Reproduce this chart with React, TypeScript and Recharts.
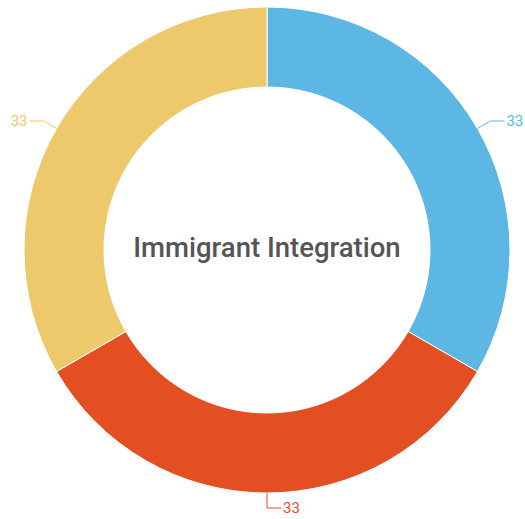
import React from 'react';
import { PieChart, Pie, Cell } from 'recharts';

const segments = ['Segment 1', 'Segment 2', 'Segment 3'];
const values = [33, 33, 33];
const colors = ['#5DB7E5', '#E34F22', '#EDC96B'];
const centerTitle = 'Immigrant Integration';

const RADIAN = Math.PI / 180;

function renderLabel(props: any) {
  const { cx, cy, midAngle, outerRadius, value, index } = props;
  const color = colors[index % colors.length];
  const cos = Math.cos(-midAngle * RADIAN);
  const sin = Math.sin(-midAngle * RADIAN);
  const sx = cx + outerRadius * cos;
  const sy = cy + outerRadius * sin;
  const mx = cx + (outerRadius + 15) * cos;
  const my = cy + (outerRadius + 15) * sin;
  const right = cos >= -0.01;
  const ex = mx + (right ? 1 : -1) * 14;
  return (
    <g>
      <path d={`M${sx},${sy}L${mx},${my}L${ex},${my}`} stroke={color} fill="none" strokeWidth={1} />
      <text
        x={ex + (right ? 2 : -2)}
        y={my}
        fill={color}
        fontSize={15}
        textAnchor={right ? 'start' : 'end'}
        dominantBaseline="central"
      >
        {value}
      </text>
    </g>
  );
}

export default function App() {
  const data = segments.map((name, i) => ({ name, value: values[i] }));
  return (
    <div style={{ position: 'absolute', left: 0, top: 0, fontFamily: 'Roboto' }}>
      <PieChart width={525} height={519} margin={{ top: 0, right: 0, bottom: 0, left: 0 }}>
        <Pie
          data={data}
          dataKey="value"
          cx={267}
          cy={250}
          innerRadius={163}
          outerRadius={243}
          startAngle={90}
          endAngle={-270}
          stroke="#ffffff"
          strokeWidth={1}
          label={renderLabel}
          labelLine={false}
          isAnimationActive={false}
        >
          {data.map((entry, index) => (
            <Cell key={`cell-${index}`} fill={colors[index]} />
          ))}
        </Pie>
        <text
          x={267}
          y={257}
          textAnchor="middle"
          fontSize={27.5}
          fontWeight={500}
          fill="#555555"
          fontFamily="Roboto"
        >
          {centerTitle}
        </text>
      </PieChart>
    </div>
  );
}
